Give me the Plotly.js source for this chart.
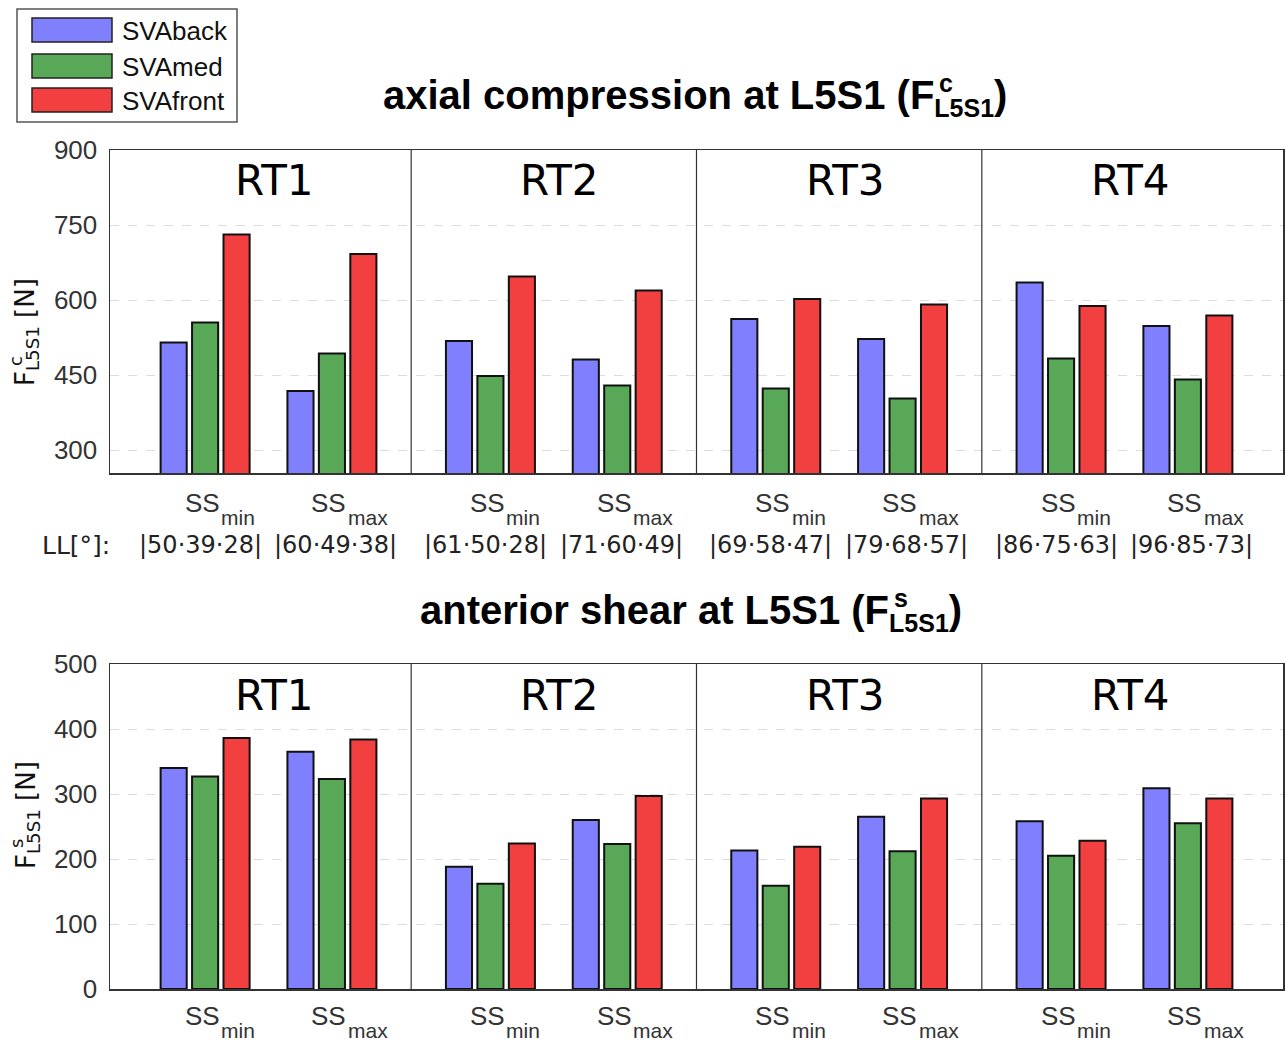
<!DOCTYPE html>
<html><head><meta charset="utf-8">
<script src="https://cdn.plot.ly/plotly-3.0.1.min.js"></script>
<style>body{margin:0;padding:0;background:#fff}#chart{width:1286px;height:1042px}</style>
</head><body><div id="chart"></div>
<script>
// ---- data ----
const seriesNames = ['SVAback', 'SVAmed', 'SVAfront'];
const groupLabels = ['RT1', 'RT2', 'RT3', 'RT4'];
const ssMain = ['SS', 'SS', 'SS', 'SS', 'SS', 'SS', 'SS', 'SS'];
const ssSub = ['min', 'max', 'min', 'max', 'min', 'max', 'min', 'max'];
const llLabels = ['|50·39·28|', '|60·49·38|', '|61·50·28|', '|71·60·49|', '|69·58·47|', '|79·68·57|', '|86·75·63|', '|96·85·73|'];
const compBack  = [515, 418, 518, 481, 562, 522, 635, 548];
const compMed   = [555, 493, 448, 429, 423, 403, 483, 441];
const compFront = [731, 692, 647, 619, 602, 591, 588, 569];
const shearBack  = [340, 365, 188, 260, 213, 265, 258, 309];
const shearMed   = [327, 323, 162, 223, 159, 212, 205, 255];
const shearFront = [386, 384, 224, 297, 219, 293, 228, 293];

// ---- layout helpers ----
const W = 1286, H = 1042, ML = 110, MR = 3;
const PW = W - ML - MR;
const px = v => (v - ML) / PW;
const py = v => 1 - v / H;
const colors = ['#8080ff', '#58a858', '#f24040'];
const xs = ssMain.map((_, i) => 1 + i + Math.floor(i / 2) * 0.25);
const mids = groupLabels.map((_, g) => (xs[2 * g] + xs[2 * g + 1]) / 2);
const dividers = groupLabels.slice(1).map((_, g) => (xs[2 * g + 1] + xs[2 * g + 2]) / 2);

const compData = [compBack, compMed, compFront];
const shearData = [shearBack, shearMed, shearFront];
const traces = [];
seriesNames.forEach((n, k) => {
  traces.push({type: 'bar', name: n, x: xs, y: compData[k], xaxis: 'x', yaxis: 'y', showlegend: false,
    marker: {color: colors[k], line: {color: '#111', width: 2}}, hoverinfo: 'y'});
});
seriesNames.forEach((n, k) => {
  traces.push({type: 'bar', name: n, x: xs, y: shearData[k], xaxis: 'x2', yaxis: 'y2', showlegend: false,
    marker: {color: colors[k], line: {color: '#111', width: 2}}, hoverinfo: 'y'});
});

const SANS = 'Liberation Sans, Arial, sans-serif';
const DEJA = 'DejaVu Sans, sans-serif';
const tickFont = {family: SANS, size: 26, color: '#333'};
const xCommon = {range: [0.25, 9.5], showticklabels: false, ticks: '',
  showline: true, mirror: true, linecolor: '#333', linewidth: 1.5, showgrid: false, zeroline: false,
  automargin: false, fixedrange: true};
const yCommon = {tickfont: tickFont, ticks: '', showline: true, mirror: true, linecolor: '#333', linewidth: 1.5,
  showgrid: true, gridcolor: '#dcdcdc', griddash: 'dash', gridwidth: 1, zeroline: false,
  ticklabelstandoff: 6, automargin: false, fixedrange: true};

const shapes = [];
dividers.forEach(d => {
  shapes.push({type: 'line', xref: 'x', yref: 'y domain', x0: d, x1: d, y0: 0, y1: 1, line: {color: '#333', width: 1.2}});
  shapes.push({type: 'line', xref: 'x2', yref: 'y2 domain', x0: d, x1: d, y0: 0, y1: 1, line: {color: '#333', width: 1.2}});
});
// legend box
shapes.push({type: 'rect', xref: 'paper', yref: 'paper', x0: px(17), x1: px(237), y0: py(122), y1: py(9),
  line: {color: '#555', width: 1.5}, fillcolor: '#fff'});
const legRows = [30, 66, 100];
seriesNames.forEach((n, k) => {
  shapes.push({type: 'rect', xref: 'paper', yref: 'paper', x0: px(32), x1: px(112), y0: py(legRows[k] + 12), y1: py(legRows[k] - 12),
    line: {color: '#222', width: 1.5}, fillcolor: colors[k]});
});

const annotations = [];
seriesNames.forEach((n, k) => {
  annotations.push({xref: 'paper', yref: 'paper', x: px(120), y: py(legRows[k] + 1), xanchor: 'left', yanchor: 'middle',
    text: n, showarrow: false, font: {family: SANS, size: 26, color: '#111'}});
});
groupLabels.forEach((g, i) => {
  annotations.push({xref: 'x', yref: 'y domain', x: mids[i], y: 1, yshift: -30, xshift: 6, xanchor: 'center', yanchor: 'middle',
    text: g, showarrow: false, font: {family: DEJA, size: 42, color: '#000'}});
  annotations.push({xref: 'x2', yref: 'y2 domain', x: mids[i], y: 1, yshift: -31, xshift: 6, xanchor: 'center', yanchor: 'middle',
    text: g, showarrow: false, font: {family: DEJA, size: 42, color: '#000'}});
});
// SS category labels (SS centred on group, subscript hanging right and lower)
ssMain.forEach((t, i) => {
  [['x', 503], ['x2', 1016]].forEach(([ax, yc]) => {
    annotations.push({xref: ax, yref: 'paper', x: xs[i], xshift: -3, y: py(yc), xanchor: 'center', yanchor: 'middle',
      text: t, showarrow: false, font: {family: SANS, size: 26, color: '#333'}});
    annotations.push({xref: ax, yref: 'paper', x: xs[i], xshift: 14, y: py(yc + 14), xanchor: 'left', yanchor: 'middle',
      text: ssSub[i], showarrow: false, font: {family: SANS, size: 21, color: '#333'}});
  });
});
llLabels.forEach((t, i) => {
  annotations.push({xref: 'x', yref: 'paper', x: xs[i], xshift: (i % 2 === 0 ? -5 : 4), y: py(545), xanchor: 'center', yanchor: 'middle',
    text: t, showarrow: false, font: {family: DEJA, size: 24, color: '#222'}});
});
annotations.push({xref: 'paper', yref: 'paper', x: px(76), y: py(545), xanchor: 'center', yanchor: 'middle', text: 'LL[°]:', showarrow: false,
  font: {family: DEJA, size: 25, color: '#222'}});
// titles
const titleFont = {family: SANS, size: 40, color: '#000'};
annotations.push({xref: 'paper', yref: 'paper', x: px(695), y: py(97), xanchor: 'center', yanchor: 'middle',
  text: '<b>axial compression at L5S1 (F<sub><span style="font-size:25px">L5S1</span></sub>)</b>', showarrow: false, font: titleFont});
annotations.push({xref: 'paper', yref: 'paper', x: px(937), y: py(83), xanchor: 'left', yanchor: 'middle',
  text: '<b>c</b>', showarrow: false, font: {family: SANS, size: 25, color: '#000'}});
annotations.push({xref: 'paper', yref: 'paper', x: px(691), y: py(612), xanchor: 'center', yanchor: 'middle',
  text: '<b>anterior shear at L5S1 (F<sub><span style="font-size:25px">L5S1</span></sub>)</b>', showarrow: false, font: titleFont});
annotations.push({xref: 'paper', yref: 'paper', x: px(892), y: py(598), xanchor: 'left', yanchor: 'middle',
  text: '<b>s</b>', showarrow: false, font: {family: SANS, size: 25, color: '#000'}});
// y-axis titles
const yTitleFont = {family: DEJA, size: 26, color: '#111'};
annotations.push({xref: 'paper', yref: 'paper', x: px(27), y: py(332), xanchor: 'center', yanchor: 'middle', textangle: -90,
  text: 'F<sub>L5S1</sub> [N]', showarrow: false, font: yTitleFont});
annotations.push({xref: 'paper', yref: 'paper', x: px(16), y: py(361), xanchor: 'center', yanchor: 'middle', textangle: -90, text: 'c',
  showarrow: false, font: {family: DEJA, size: 18, color: '#111'}});
annotations.push({xref: 'paper', yref: 'paper', x: px(27), y: py(815), xanchor: 'center', yanchor: 'middle', textangle: -90,
  text: 'F<sub>L5S1</sub> [N]', showarrow: false, font: yTitleFont});
annotations.push({xref: 'paper', yref: 'paper', x: px(16), y: py(844), xanchor: 'center', yanchor: 'middle', textangle: -90, text: 's',
  showarrow: false, font: {family: DEJA, size: 18, color: '#111'}});

const layout = {
  width: W, height: H, margin: {l: ML, r: MR, t: 0, b: 0},
  paper_bgcolor: '#fff', plot_bgcolor: '#fff',
  barmode: 'group', bargap: 0.256, bargroupgap: 0.17,
  xaxis: Object.assign({}, xCommon, {anchor: 'y'}),
  yaxis: Object.assign({}, yCommon, {domain: [py(473), py(150)], range: [254, 900], tick0: 0, dtick: 150, anchor: 'x'}),
  xaxis2: Object.assign({}, xCommon, {anchor: 'y2'}),
  yaxis2: Object.assign({}, yCommon, {domain: [py(989), py(664)], range: [0, 500], tick0: 0, dtick: 100, anchor: 'x2'}),
  shapes: shapes, annotations: annotations, showlegend: false
};
Plotly.newPlot('chart', traces, layout, {displayModeBar: false, staticPlot: true});
</script></body></html>
